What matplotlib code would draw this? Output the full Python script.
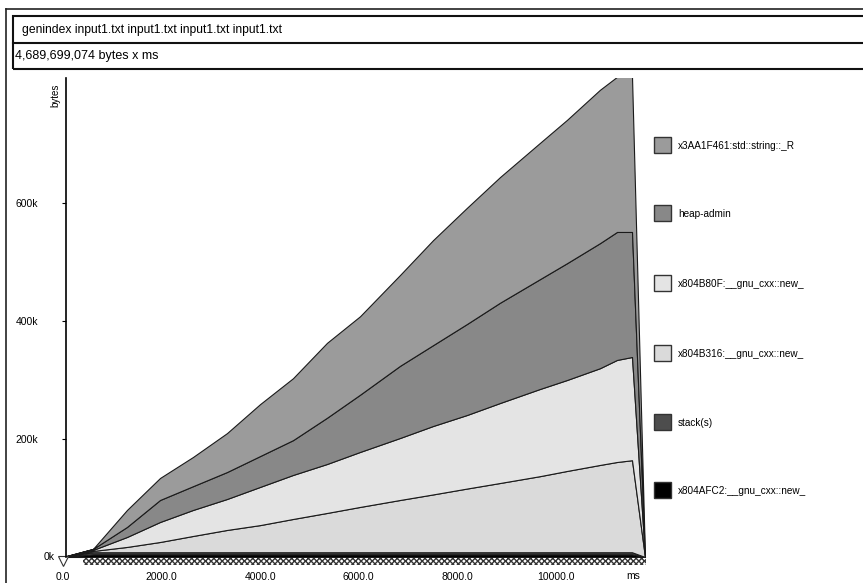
import matplotlib
matplotlib.use("Agg")
import matplotlib.pyplot as plt
from matplotlib.patches import Rectangle
import numpy as np

plt.rcParams['font.family'] = ['Liberation Sans', 'DejaVu Sans']

# snapshot times (ms) and per-layer heap sizes (kB)
times = [0, 608, 1298, 1968, 2637, 3327, 3996, 4665, 5355, 6024, 6836, 7505,
         8195, 8864, 9675, 10223, 10892, 11237, 11542, 11805]
afc2 = [0, 4.5, 4.5, 4.5, 4.5, 4.5, 4.5, 4.5, 4.5, 4.5, 4.5, 4.5,
        4.5, 4.5, 4.5, 4.5, 4.5, 4.5, 4.5, 0]
stack = [0, 3.5, 3.5, 3.5, 3.5, 3.5, 3.5, 3.5, 3.5, 3.5, 3.5, 3.5,
         3.5, 3.5, 3.5, 3.5, 3.5, 3.5, 3.5, 0]
b316 = [0, 2.2, 9.0, 17.4, 27.6, 37.8, 46.0, 56.4, 66.6, 76.8, 88.6, 98.0,
        108.0, 117.4, 129.0, 137.8, 148.0, 153.0, 156.0, 0]
b80f = [0, 1.7, 16.9, 33.9, 44.1, 52.5, 64.7, 74.6, 83.0, 93.2, 105.1, 116.0,
        124.7, 135.6, 147.8, 154.2, 164.0, 173.0, 175.0, 0]
heap_admin = [0, 1.7, 17.0, 37.3, 40.3, 45.7, 52.3, 59.0, 78.4, 97.0, 122.3, 137.0,
              154.3, 170.0, 186.2, 198.0, 212.0, 217.0, 212.0, 0]
str_r = [0, 0, 28.8, 37.3, 49.5, 66.0, 88.0, 105.0, 127.0, 133.0, 154.0, 178.0,
         197.0, 213.0, 231.0, 243.0, 260.0, 263.0, 263.0, 0]

labels = ['x804AFC2:__gnu_cxx::new_', 'stack(s)', 'x804B316:__gnu_cxx::new_',
          'x804B80F:__gnu_cxx::new_', 'heap-admin', 'x3AA1F461:std::string::_R']
colors = ['#000000', '#4d4d4d', '#dadada', '#e4e4e4', '#888888', '#9b9b9b']
ytick_vals = [200000, 400000, 600000]
ytick_labels = ['200k', '400k', '600k']
xtick_vals = [0, 2000, 4000, 6000, 8000, 10000]
xtick_labels = ['0.0', '2000.0', '4000.0', '6000.0', '8000.0', '10000.0']

W, H = 863, 583
fig = plt.figure(figsize=(W / 100, H / 100), dpi=100)


def fx(px):
    return px / W


def fy(py):
    return 1 - py / H


# outer frame and title boxes
fig.add_artist(plt.Line2D([fx(6), fx(6)], [fy(9), 0], color='#222', lw=1.2))
fig.add_artist(plt.Line2D([fx(6), 1], [fy(9), fy(9)], color='#222', lw=1.2))
fig.add_artist(Rectangle((fx(13), fy(69)), 1.0, fy(16) - fy(69),
                         fill=False, ec='#111', lw=1.5))
fig.add_artist(plt.Line2D([fx(13), 1], [fy(43), fy(43)], color='#111', lw=1.5))
fig.text(fx(22), fy(30), 'genindex input1.txt input1.txt input1.txt input1.txt',
         fontsize=8.7, va='center', ha='left')
fig.text(fx(15), fy(56.5), '4,689,699,074 bytes x ms', fontsize=9, va='center', ha='left')

ax = fig.add_axes([fx(63), fy(566), fx(650) - fx(63), fy(78) - fy(566)])
t = np.array(times)
ys = [np.array(v) * 1000 for v in [afc2, stack, b316, b80f, heap_admin, str_r]]
ax.stackplot(t, *ys, colors=colors, edgecolor='#1a1a1a', linewidth=0.8)

ax.set_xlim(0, 11907)
ax.set_ylim(-15300, 812000)

# snapshot markers under the time axis
ax.add_patch(Rectangle((400, -14000), 11420, 12500, facecolor='white',
                       edgecolor='#333', hatch='xxxxxx', lw=0))
ax.plot([0], [-6500], marker='v', ms=7, mfc='white', mec='#333', mew=0.8, clip_on=False)

for s in ['top', 'right', 'bottom']:
    ax.spines[s].set_visible(False)
ax.spines['left'].set_bounds(0, 812000)
ax.spines['left'].set_position(('data', 60))
ax.spines['left'].set_linewidth(1.2)

ax.set_yticks(ytick_vals)
ax.set_yticklabels(ytick_labels, fontsize=7.5)
ax.tick_params(axis='y', length=3, width=0.8, pad=17)
ax.set_xticks(xtick_vals)
ax.set_xticklabels(xtick_labels, fontsize=7.5)
ax.tick_params(axis='x', length=0, pad=4)

fig.text(fx(49), fy(557), '0k', fontsize=7.5, ha='center', va='center')
fig.text(fx(633), fy(576), 'ms', fontsize=7.5, ha='center', va='center')
fig.text(fx(55), fy(95), 'bytes', fontsize=7, ha='center', va='center', rotation=90)

# legend on the right, top entry first
leg_y = [490, 422, 353, 283, 213, 145]
for lab, col, py in zip(labels, colors, leg_y):
    fig.add_artist(Rectangle((fx(654), fy(py + 8)), fx(671) - fx(654), fy(py - 8) - fy(py + 8),
                             facecolor=col, edgecolor='#333', lw=1))
    fig.text(fx(678), fy(py + 1), lab, fontsize=7.2, ha='left', va='center')

fig.savefig('out.png', dpi=100)
